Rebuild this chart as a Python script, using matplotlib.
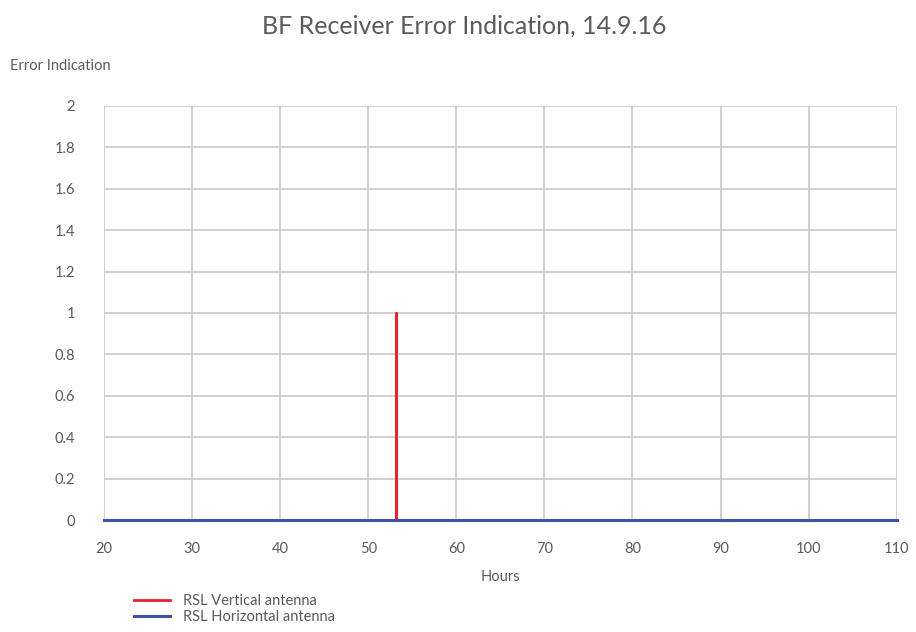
import matplotlib.pyplot as plt
from matplotlib.ticker import FuncFormatter

# Data
hours_vertical = [20, 53.2, 53.2, 53.2, 110]
error_vertical = [0, 0, 1, 0, 0]
hours_horizontal = [20, 110]
error_horizontal = [0, 0]

x_ticks = [20, 30, 40, 50, 60, 70, 80, 90, 100, 110]
y_ticks = [0, 0.2, 0.4, 0.6, 0.8, 1, 1.2, 1.4, 1.6, 1.8, 2]

plt.rcParams['font.family'] = ['Lato', 'DejaVu Sans']
text_color = '#5a5a5a'

fig = plt.figure(figsize=(9.16, 6.32), dpi=100)
ax = fig.add_axes([0.1135, 0.1772, 0.8655, 0.6551])

ax.plot(hours_vertical, error_vertical, color='#e8232a', linewidth=2, label='RSL Vertical antenna',
        zorder=3, clip_on=False)
ax.plot(hours_horizontal, error_horizontal, color='#3f51a5', linewidth=2.2, label='RSL Horizontal antenna',
        zorder=4, clip_on=False)

ax.set_xlim(20, 110)
ax.set_ylim(0, 2)
ax.set_xticks(x_ticks)
ax.set_yticks(y_ticks)
ax.yaxis.set_major_formatter(FuncFormatter(lambda v, p: f'{v:g}'))
ax.grid(True, color='#c8c8c8', linewidth=1.2)
ax.set_axisbelow(True)
for s in ax.spines.values():
    s.set_visible(False)
ax.tick_params(length=0, labelsize=10.5, labelcolor=text_color)
ax.tick_params(axis='y', pad=21)
ax.tick_params(axis='x', pad=16)

ax.set_xlabel('Hours', fontsize=10.5, color=text_color, labelpad=10)
fig.text(0.011, 0.896, 'Error Indication', fontsize=10.5, color=text_color, ha='left', va='center')
fig.text(0.507, 0.958, 'BF Receiver Error Indication, 14.9.16', fontsize=18, color=text_color,
         ha='center', va='center')

ax.legend(loc='upper left', bbox_to_anchor=(0.03, -0.165), frameon=False, fontsize=10.5,
          labelcolor=text_color, handlelength=2.5, handletextpad=0.9, labelspacing=0.15,
          borderaxespad=0)

plt.savefig('out.png', dpi=100)
